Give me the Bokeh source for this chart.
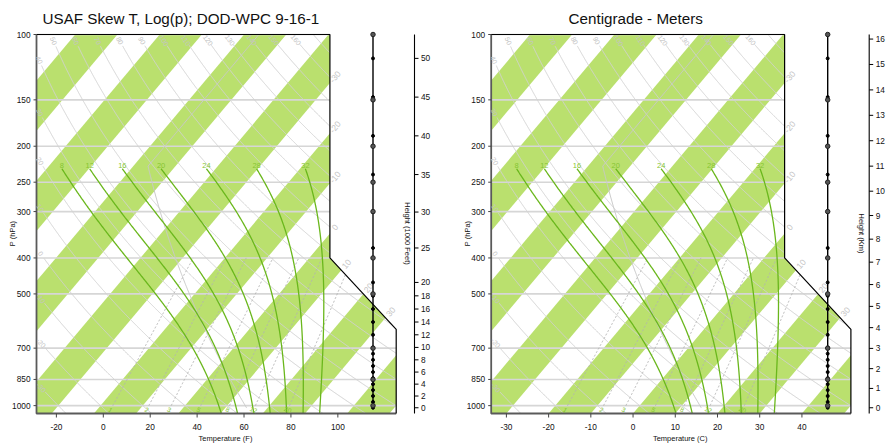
import math
import numpy as np
from bokeh.plotting import figure
from bokeh.layouts import row
from bokeh.models import Range1d
from bokeh.embed import file_html
from bokeh.resources import INLINE
from bokeh.core.properties import value

# ---------------- data ----------------
P_LEVELS = [1000, 850, 700, 500, 400, 300, 250, 200, 150, 100]          # hPa isobars
DRY_THETA = list(range(-30, 180, 10))                                    # dry adiabats (C)
DRY_LABELED = list(range(-30, 170, 10))                                  # labelled dry adiabats
MOIST_THW = [8, 12, 16, 20, 24, 28, 32]                                  # moist adiabats (C)
MOIST_TOP_P = 230.0
MIX_RATIOS = [1, 2, 3, 5, 8, 12, 20]                                     # g/kg
ISOTHERM_LABELS = [-30, -20, -10, 0, 10, 20, 30]                         # C
BAND_STARTS = list(range(-120, 60, 20))                                  # green bands [T, T+10] C
F_TICKS = [-20, 0, 20, 40, 60, 80, 100]
C_TICKS = [-30, -20, -10, 0, 10, 20, 30, 40]
KFT_TICKS = [0, 2, 4, 6, 8, 10, 12, 14, 16, 18, 20, 25, 30, 35, 40, 45, 50]
KM_TICKS = list(range(0, 17))
DOT_KFT = [0, 1, 2, 3, 4, 5, 6, 7, 8, 9, 10, 12, 14, 16, 18, 20, 25, 30, 35, 40, 45, 50]
TITLES = ["USAF Skew T, Log(p); DOD-WPC 9-16-1", "Centigrade - Meters"]

FONT = "Liberation Sans"
GREEN_BAND = "#BAE06E"
GREEN_LINE = "#6AB71C"
GREEN_TEXT = "#86C532"
GRAY_LINE = "#D2D2D2"
GRAY_TEXT = "#C4C4C4"


# ---------------- skew-T coordinates ----------------
def skewty(p):
    return 132.182 - 44.061 * np.log10(p)


def skewtx(t, y):
    return 0.54 * t + 0.90692 * y


YBOT = float(skewty(1050.0))
YTOP = float(skewty(100.0))
XMIN = float(skewtx(-33.6, YBOT))
XMAX = float(skewtx(51.6, YBOT))
XC = float(skewtx(35.9, YBOT))
Y400 = float(skewty(400.0))
YCOR = Y400 - (XMAX - XC)
SX = 359.7 / (XMAX - XMIN)      # px per x unit
SY = 379.0 / (YTOP - YBOT)      # px per y unit
TOP_PX = 34.0

FRAME = [(XMIN, YBOT), (XMIN, YTOP), (XC, YTOP), (XC, Y400), (XMAX, YCOR), (XMAX, YBOT)]


def xright(y):
    if y >= Y400:
        return XC
    if y <= YCOR:
        return XMAX
    return XC + (Y400 - y)


def inside(x, y):
    e = 1e-9
    if y < YBOT - e or y > YTOP + e or x < XMIN - e:
        return False
    return x <= xright(y) + e


def cross(x0, y0, x1, y1):
    a = inside(x0, y0)
    lo, hi = 0.0, 1.0
    for _ in range(40):
        m = 0.5 * (lo + hi)
        if inside(x0 + m * (x1 - x0), y0 + m * (y1 - y0)) == a:
            lo = m
        else:
            hi = m
    m = 0.5 * (lo + hi)
    return (x0 + m * (x1 - x0), y0 + m * (y1 - y0))


def clip_xy(xs, ys):
    segs, cur = [], []
    ins = [inside(x, y) for x, y in zip(xs, ys)]
    for i in range(len(xs)):
        if ins[i]:
            if not cur and i > 0:
                cur.append(cross(xs[i - 1], ys[i - 1], xs[i], ys[i]))
            cur.append((xs[i], ys[i]))
        else:
            if cur:
                cur.append(cross(xs[i - 1], ys[i - 1], xs[i], ys[i]))
                segs.append(cur)
                cur = []
    if cur:
        segs.append(cur)
    return [np.array(s) for s in segs if len(s) > 1]


def clip_half(poly, f):
    out = []
    n = len(poly)
    for i in range(n):
        cur, prev = poly[i], poly[i - 1]
        fc, fp = f(*cur), f(*prev)
        if fc >= 0:
            if fp < 0:
                t = fp / (fp - fc)
                out.append((prev[0] + t * (cur[0] - prev[0]), prev[1] + t * (cur[1] - prev[1])))
            out.append(cur)
        elif fp >= 0:
            t = fp / (fp - fc)
            out.append((prev[0] + t * (cur[0] - prev[0]), prev[1] + t * (cur[1] - prev[1])))
    return out


def walk(seg_px, s_t):
    d = np.hypot(*np.diff(seg_px, axis=0).T)
    s = np.concatenate([[0.0], np.cumsum(d)])
    return np.interp(s_t, s, seg_px[:, 0]), np.interp(s_t, s, seg_px[:, 1]), s


def std_p(h):
    h = np.asarray(h, float)
    return np.where(h <= 11000.0, 1013.25 * np.clip(1 - 2.25577e-5 * h, 1e-6, None) ** 5.25588,
                    226.32 * np.exp(-(h - 11000.0) / 6341.62))


def std_t(h):
    h = np.asarray(h, float)
    return np.where(h <= 11000.0, 15.0 - 0.0065 * h, -56.5)


def tmr(w, p):
    x = math.log10(w * p / (622.0 + w))
    tk = 10 ** (0.0498646455 * x + 2.4082965) - 7.07475 + 38.9114 * ((10 ** (0.0915 * x) - 1.2035) ** 2)
    return tk - 273.15


def moist_profile(thw):
    def es(T):
        tc = T - 273.15
        return 6.112 * np.exp(17.67 * tc / (tc + 243.5))

    def f(p, T):
        e = es(T)
        rs = 0.622 * e / (p - e)
        return (287.04 * T + 2.501e6 * rs) / (p * (1005.7 + 2.501e6 ** 2 * rs * 0.622 / (287.04 * T * T)))

    def integ(p0, p1, T0, n):
        ps = np.linspace(p0, p1, n + 1)
        Ts = [T0]
        T = T0
        for i in range(n):
            h = ps[i + 1] - ps[i]
            p = ps[i]
            k1 = f(p, T)
            k2 = f(p + h / 2, T + h / 2 * k1)
            k3 = f(p + h / 2, T + h / 2 * k2)
            k4 = f(p + h, T + h * k3)
            T = T + h / 6 * (k1 + 2 * k2 + 2 * k3 + k4)
            Ts.append(T)
        return ps, np.array(Ts)

    T0 = thw + 273.15
    pu, Tu = integ(1000.0, MOIST_TOP_P, T0, 400)
    pd, Td = integ(1000.0, 1050.0, T0, 25)
    p = np.concatenate([pd[::-1], pu[1:]])
    T = np.concatenate([Td[::-1], Tu[1:]])
    return p, T - 273.15


# ---------------- geometry shared by both panels ----------------
band_xs, band_ys = [], []
for t0 in BAND_STARTS:
    lo, hi = 0.54 * t0, 0.54 * (t0 + 10)
    poly = clip_half(FRAME, lambda x, y, lo=lo: (x - 0.90692 * y) - lo)
    if poly:
        poly = clip_half(poly, lambda x, y, hi=hi: hi - (x - 0.90692 * y))
    if len(poly) >= 3:
        band_xs.append([q[0] for q in poly])
        band_ys.append([q[1] for q in poly])

iso_xs = [[XMIN, xright(float(skewty(p)))] for p in P_LEVELS]
iso_ys = [[float(skewty(p))] * 2 for p in P_LEVELS]

pp = np.logspace(np.log10(1050.0), 2.0, 700)
yy = skewty(pp)
dry_xs, dry_ys = [], []
dry_lab = {"x": [], "y": [], "t": [], "a": []}
for th in DRY_THETA:
    T = (th + 273.15) * (pp / 1000.0) ** 0.2857 - 273.15
    segs = clip_xy(skewtx(T, yy), yy)
    if not segs:
        continue
    for k, seg in enumerate(segs):
        if k == len(segs) - 1 and th in DRY_LABELED:
            rev = seg[::-1] * np.array([SX, SY])
            lx, ly, s = walk(rev, 7.0)
            ax, ay, _ = walk(rev, 4.0)
            bx, by, _ = walk(rev, 10.0)
            dry_lab["x"].append(lx / SX)
            dry_lab["y"].append(ly / SY)
            dry_lab["t"].append(str(th))
            dry_lab["a"].append(math.atan2(by - ay, bx - ax))
            cx, cy, _ = walk(rev, 13.0)
            keep = rev[s > 13.0]
            pts = np.vstack([[cx, cy], keep]) / np.array([SX, SY])
            dry_xs.append(list(pts[:, 0]))
            dry_ys.append(list(pts[:, 1]))
        else:
            dry_xs.append(list(seg[:, 0]))
            dry_ys.append(list(seg[:, 1]))

# standard atmosphere profile
hh = np.linspace(0.0, 16500.0, 400)
sp = std_p(hh)
sy_ = skewty(sp)
std_segs = clip_xy(skewtx(std_t(hh), sy_), sy_)

# mixing-ratio lines (1000 -> 400 hPa)
mix_xs, mix_ys = [], []
mix_lab = {"x": [], "y": [], "t": [], "a": []}
y1000, y400 = float(skewty(1000.0)), float(skewty(400.0))
y1025 = float(skewty(1025.0))
for w in MIX_RATIOS:
    xa, xb = skewtx(tmr(w, 1000.0), y1000), skewtx(tmr(w, 400.0), y400)
    tt = np.linspace(0, 1, 300)
    for seg in clip_xy(xa + tt * (xb - xa), y1000 + tt * (y400 - y1000)):
        mix_xs.append(list(seg[:, 0]))
        mix_ys.append(list(seg[:, 1]))
    xl = xa + (xb - xa) * (y1025 - y1000) / (y400 - y1000)
    mix_lab["x"].append(xl)
    mix_lab["y"].append(y1025)
    mix_lab["t"].append(str(w))
    mix_lab["a"].append(math.atan2((y400 - y1000) * SY, (xb - xa) * SX) - math.pi / 2)

# moist adiabats
moist_xs, moist_ys = [], []
moist_lab = {"x": [], "y": [], "t": []}
for thw in MOIST_THW:
    p, T = moist_profile(thw)
    y = skewty(p)
    x = skewtx(T, y)
    moist_xs.append(list(x))
    moist_ys.append(list(y))
    moist_lab["x"].append(float(x[-1]))
    moist_lab["y"].append(float(y[-1]) + 3.3 / SY)
    moist_lab["t"].append(str(thw))

# isotherm labels at the right boundary
isoT_lab = {"x": [], "y": [], "t": []}
ang_iso = math.atan2(SY, 0.90692 * SX)
yl = np.linspace(YBOT, YTOP, 800)
for t in ISOTHERM_LABELS:
    segs = clip_xy(skewtx(t, yl), yl)
    ex, ey = segs[-1][-1]
    isoT_lab["x"].append(ex + 8.0 * math.cos(ang_iso) / SX)
    isoT_lab["y"].append(ey + 8.0 * math.sin(ang_iso) / SY)
    isoT_lab["t"].append(str(t))


def ytxt(px):
    """data y of a pixel row (measured from the top of the panel)"""
    return YTOP - (px - TOP_PX) / SY


def make_panel(left_px, title, temp_ticks_c, temp_labels, xtitle, h_ticks_p, h_labels, htitle):
    p = figure(width=445, height=445,
               x_range=Range1d(XMIN - left_px / SX, XMIN + (445 - left_px) / SX),
               y_range=Range1d(YBOT - 32.0 / SY, YTOP + TOP_PX / SY),
               output_backend="svg", toolbar_location=None,
               x_axis_location=None, y_axis_location=None,
               min_border_left=0, min_border_right=0, min_border_top=0, min_border_bottom=0)
    p.grid.visible = False
    p.outline_line_color = None
    p.background_fill_color = "white"
    p.border_fill_color = "white"

    p.patches(band_xs, band_ys, fill_color=GREEN_BAND, line_color=None)
    p.multi_line(iso_xs, iso_ys, line_color="#D6D6D6", line_width=1.6)
    p.multi_line(dry_xs, dry_ys, line_color=GRAY_LINE, line_width=1.0)
    for seg in std_segs:
        p.line(seg[:, 0], seg[:, 1], line_color="#C8C8C8", line_width=1.0)
    p.multi_line(mix_xs, mix_ys, line_color="#B4B4B4", line_width=1.0, line_dash="2 2")
    p.multi_line(moist_xs, moist_ys, line_color=GREEN_LINE, line_width=1.3)

    # frame
    p.line([XMIN, XMIN, XMAX], [YTOP, YBOT, YBOT], line_color="#5A5A5A", line_width=1.8)
    p.line([XMIN, XC, XC, XMAX, XMAX], [YTOP, YTOP, Y400, YCOR, YBOT], line_color="black", line_width=1.2)

    # in-plot labels
    p.text(dry_lab["x"], dry_lab["y"], text=dry_lab["t"], angle=dry_lab["a"],
           text_font=value(FONT), text_font_size="7px", text_color=GRAY_TEXT,
           text_align="center", text_baseline="middle")
    p.text(isoT_lab["x"], isoT_lab["y"], text=isoT_lab["t"], angle=ang_iso,
           text_font=value(FONT), text_font_size="8.5px", text_color=GRAY_TEXT,
           text_align="center", text_baseline="middle")
    p.text(mix_lab["x"], mix_lab["y"], text=mix_lab["t"], angle=mix_lab["a"],
           text_font=value(FONT), text_font_size="6.5px", text_color=GREEN_TEXT,
           text_align="center", text_baseline="middle")
    p.text(moist_lab["x"], moist_lab["y"], text=moist_lab["t"],
           text_font=value(FONT), text_font_size="7.5px", text_color=GREEN_TEXT,
           text_align="center", text_baseline="middle")

    # height column with dots
    xcol = XMIN + 336.5 / SX
    p.line([xcol, xcol], [YTOP, float(skewty(std_p(0.0)))], line_color="black", line_width=1.4)
    ydots = [float(skewty(v)) for v in std_p(np.array(DOT_KFT) * 304.8)]
    p.scatter([xcol] * len(ydots), ydots, size=3, color="black")
    p.scatter([xcol] * len(P_LEVELS), [float(skewty(v)) for v in P_LEVELS], size=4.5,
              fill_color="#555555", line_color="#222222", line_width=1)

    # height axis
    xh = XMIN + 378.0 / SX
    p.line([xh, xh], [YBOT, YTOP], line_color="black", line_width=1.1)
    yh = [float(skewty(v)) for v in h_ticks_p]
    p.segment([xh] * len(yh), yh, [xh + 4.0 / SX] * len(yh), yh, line_color="black", line_width=1)
    p.text([xh + 6.5 / SX] * len(yh), yh, text=h_labels, text_font=value(FONT),
           text_font_size="8.3px", text_color="#111111", text_align="left", text_baseline="middle")
    p.text([XMIN + 370.5 / SX], [ytxt(233.0)], text=[htitle], angle=-math.pi / 2,
           text_font=value(FONT), text_font_size="7.5px", text_color="#111111",
           text_align="center", text_baseline="middle")

    # pressure axis
    yp = [float(skewty(v)) for v in P_LEVELS]
    p.segment([XMIN - 3.0 / SX] * len(yp), yp, [XMIN] * len(yp), yp, line_color="#444444", line_width=1)
    p.text([XMIN - 6.0 / SX] * len(yp), yp, text=[str(v) for v in P_LEVELS], text_font=value(FONT),
           text_font_size="8.3px", text_color="#111111", text_align="right", text_baseline="middle")
    p.text([XMIN - 24.2 / SX], [ytxt(233.0)], text=["P (hPa)"], angle=math.pi / 2,
           text_font=value(FONT), text_font_size="7.5px", text_color="#111111",
           text_align="center", text_baseline="middle")

    # temperature axis
    xt = [float(skewtx(c, YBOT)) for c in temp_ticks_c]
    p.segment(xt, [YBOT] * len(xt), xt, [YBOT - 4.0 / SY] * len(xt), line_color="#444444", line_width=1)
    p.text(xt, [ytxt(426.0)] * len(xt), text=temp_labels, text_font=value(FONT),
           text_font_size="8.3px", text_color="#111111", text_align="center", text_baseline="middle")
    p.text([XMIN + 189.0 / SX], [ytxt(437.5)], text=[xtitle], text_font=value(FONT),
           text_font_size="7.5px", text_color="#111111", text_align="center", text_baseline="middle")

    # title
    p.text([XMIN + 144.5 / SX], [ytxt(17.5)], text=[title], text_font=value(FONT),
           text_font_size="15.2px", text_color="#111111", text_align="center", text_baseline="alphabetic")
    return p


f_c = [(f - 32.0) / 1.8 for f in F_TICKS]
p1 = make_panel(36.0, TITLES[0], f_c, [str(v) for v in F_TICKS], "Temperature (F)",
                list(std_p(np.array(KFT_TICKS) * 304.8)), [str(v) for v in KFT_TICKS], "Height (1000 Feet)")
p2 = make_panel(45.7, TITLES[1], C_TICKS, [str(v) for v in C_TICKS], "Temperature (C)",
                list(std_p(np.array(KM_TICKS) * 1000.0)), [str(v) for v in KM_TICKS], "Height (Km)")

layout = row(p1, p2)
open("out.html", "w").write(file_html(layout, INLINE))
